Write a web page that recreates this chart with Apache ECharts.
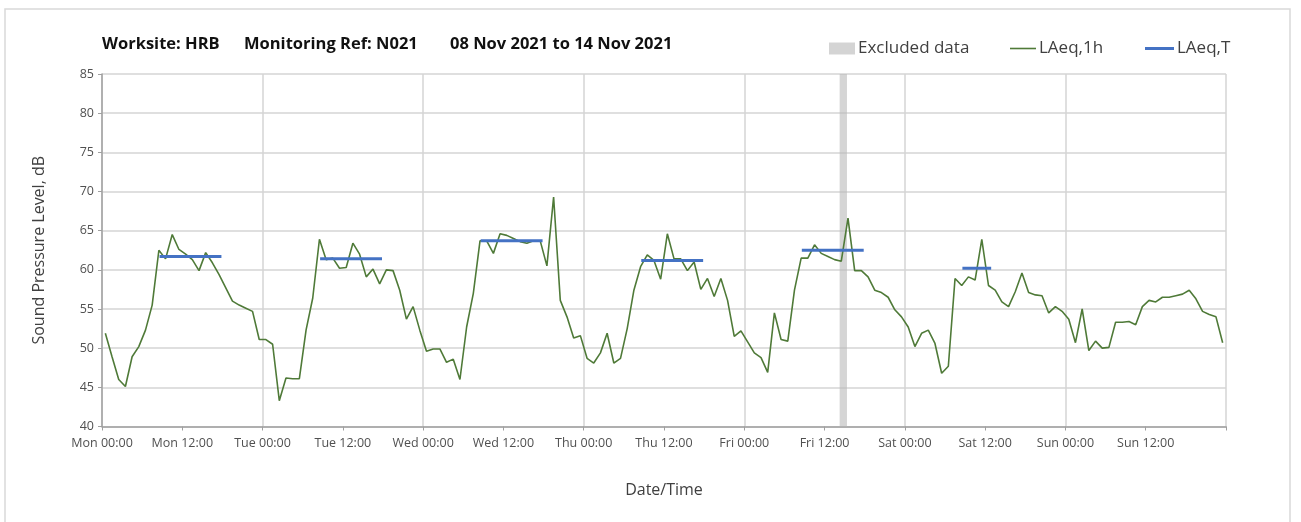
<!DOCTYPE html>
<html>
<head>
<meta charset="utf-8">
<script src="https://cdn.jsdelivr.net/npm/echarts@6/dist/echarts.min.js"></script>
<style>
  html, body { margin: 0; padding: 0; background: #fff; }
  #chart { width: 1301px; height: 522px; }
</style>
</head>
<body>
<div id="chart"></div>
<script>
// hourly LAeq,1h values, Mon 00:00 .. Sun 23:00 (plotted mid-hour)
const laeq1h = [
  51.9, 48.9, 46.0, 45.1, 48.9, 50.2, 52.3, 55.5, 62.5, 61.4, 64.5, 62.6,
  62.0, 61.3, 59.9, 62.2, 60.9, 59.4, 57.7, 56.0, 55.5, 55.1, 54.7, 51.1,
  51.1, 50.5, 43.3, 46.2, 46.1, 46.1, 52.3, 56.4, 63.9, 61.3, 61.5, 60.2,
  60.3, 63.4, 62.0, 59.1, 60.1, 58.2, 60.0, 59.9, 57.4, 53.7, 55.3, 52.3,
  49.6, 49.9, 49.9, 48.2, 48.6, 46.0, 52.7, 57.0, 63.7, 63.7, 62.1, 64.6,
  64.4, 64.0, 63.6, 63.4, 63.7, 63.7, 60.5, 69.3, 56.1, 54.0, 51.3, 51.6,
  48.7, 48.1, 49.4, 51.9, 48.1, 48.7, 52.5, 57.4, 60.4, 61.9, 61.2, 58.8,
  64.6, 61.4, 61.4, 59.9, 61.0, 57.5, 58.9, 56.6, 58.9, 56.1, 51.5, 52.2,
  50.8, 49.4, 48.8, 46.9, 54.5, 51.1, 50.9, 57.4, 61.5, 61.5, 63.2, 62.1,
  61.7, 61.3, 61.1, 66.6, 59.9, 59.9, 59.1, 57.4, 57.1, 56.5, 54.9, 54.0,
  52.7, 50.2, 51.9, 52.3, 50.6, 46.8, 47.7, 58.9, 58.0, 59.1, 58.7, 63.9,
  58.0, 57.4, 55.9, 55.3, 57.2, 59.6, 57.1, 56.8, 56.7, 54.5, 55.3, 54.7,
  53.7, 50.7, 55.0, 49.7, 50.9, 50.0, 50.1, 53.3, 53.3, 53.4, 53.0, 55.3,
  56.1, 55.9, 56.5, 56.5, 56.7, 56.9, 57.4, 56.3, 54.7, 54.3, 54.0, 50.7
];

// LAeq,T per monitoring period (hours from Mon 00:00)
const periodStart = [8.6, 32.6, 56.6, 80.6, 104.6, 128.6];
const periodEnd = [17.85, 41.85, 65.85, 89.85, 113.85, 132.9];
const periodValue = [61.7, 61.4, 63.7, 61.2, 62.5, 60.2];

// excluded data window (hours)
const excludedFrom = 110.25;
const excludedTo = 111.35;

const tickLabels = [
  'Mon 00:00', 'Mon 12:00', 'Tue 00:00', 'Tue 12:00', 'Wed 00:00', 'Wed 12:00',
  'Thu 00:00', 'Thu 12:00', 'Fri 00:00', 'Fri 12:00', 'Sat 00:00', 'Sat 12:00',
  'Sun 00:00', 'Sun 12:00'
];

const font = '"Open Sans", "Noto Sans", sans-serif';
const gridColor = '#d4d4d4';

const chart = echarts.init(document.getElementById('chart'));

const series = [
  {
    name: 'Excluded data',
    type: 'line',
    data: [],
    itemStyle: { color: '#d4d4d4' },
    markArea: {
      silent: true,
      itemStyle: { color: 'rgba(185,185,185,0.6)' },
      data: [[{ xAxis: excludedFrom }, { xAxis: excludedTo }]]
    }
  },
  {
    name: 'LAeq,1h',
    type: 'line',
    symbol: 'none',
    data: laeq1h.map((v, i) => [i + 0.5, v]),
    itemStyle: { color: '#4f7a38' },
    lineStyle: { color: '#4f7a38', width: 1.6 },
    z: 3
  }
];
periodValue.forEach((v, k) => {
  series.push({
    name: 'LAeq,T',
    type: 'line',
    symbol: 'none',
    data: [[periodStart[k], v], [periodEnd[k], v]],
    itemStyle: { color: '#4472c4' },
    lineStyle: { color: '#4472c4', width: 3 },
    z: 4
  });
});

const legendText = { fontFamily: font, fontSize: 17, color: '#404040', padding: [0, 0, 0, -2] };
const titleFont = 'bold 16.5px ' + font;

chart.setOption({
  animation: false,
  backgroundColor: '#fff',
  textStyle: { fontFamily: font },
  graphic: [
    {
      type: 'rect',
      shape: { x: 5, y: 9, width: 1285, height: 530 },
      style: { fill: 'none', stroke: '#d9d9d9', lineWidth: 1.5 }
    },
    { type: 'text', left: 102, top: 36, style: { text: 'Worksite: HRB', font: titleFont, fill: '#111' } },
    { type: 'text', left: 244, top: 36, style: { text: 'Monitoring Ref: N021', font: titleFont, fill: '#111' } },
    { type: 'text', left: 450, top: 36, style: { text: '08 Nov 2021 to 14 Nov 2021', font: titleFont, fill: '#111' } }
  ],
  legend: [
    {
      data: [{ name: 'Excluded data', icon: 'rect' }],
      left: 829, top: 40, padding: 0, itemWidth: 26, itemHeight: 12,
      textStyle: legendText
    },
    {
      data: [{ name: 'LAeq,1h', icon: 'rect' }],
      left: 1010, top: 40, padding: 0, itemWidth: 26, itemHeight: 1.6,
      textStyle: legendText
    },
    {
      data: [{ name: 'LAeq,T', icon: 'rect' }],
      left: 1145, top: 40, padding: 0, itemWidth: 29, itemHeight: 3,
      textStyle: legendText
    }
  ],
  grid: { left: 102, right: 75, top: 74, bottom: 95.5 },
  xAxis: [
    {
      type: 'value',
      min: 0, max: 168, interval: 12,
      name: 'Date/Time',
      nameLocation: 'middle',
      nameGap: 56,
      nameTextStyle: { fontSize: 16, color: '#404040', fontFamily: font },
      axisLine: { lineStyle: { color: '#a0a0a0', width: 1.5 } },
      axisTick: { show: true, length: 4, lineStyle: { color: '#a0a0a0' } },
      axisLabel: {
        fontSize: 12.5, color: '#505050', margin: 10, fontFamily: font,
        formatter: v => tickLabels[v / 12] || ''
      },
      splitLine: { show: false }
    },
    {
      type: 'value',
      min: 0, max: 168, interval: 24,
      position: 'bottom',
      axisLine: { show: false },
      axisTick: { show: false },
      axisLabel: { show: false },
      splitLine: { show: true, lineStyle: { color: gridColor, width: 1.5 } }
    }
  ],
  yAxis: {
    type: 'value',
    min: 40, max: 85, interval: 5,
    name: 'Sound Pressure Level, dB',
    nameLocation: 'middle',
    nameGap: 55,
    nameTextStyle: { fontSize: 16, color: '#404040', fontFamily: font },
    axisLine: { show: true, lineStyle: { color: '#a0a0a0', width: 1.5 } },
    axisTick: { show: true, length: 4, lineStyle: { color: '#a0a0a0' } },
    axisLabel: { fontSize: 12.5, color: '#505050', margin: 8, fontFamily: font },
    splitLine: { show: true, lineStyle: { color: gridColor, width: 1.5 } }
  },
  series: series
});
</script>
</body>
</html>
